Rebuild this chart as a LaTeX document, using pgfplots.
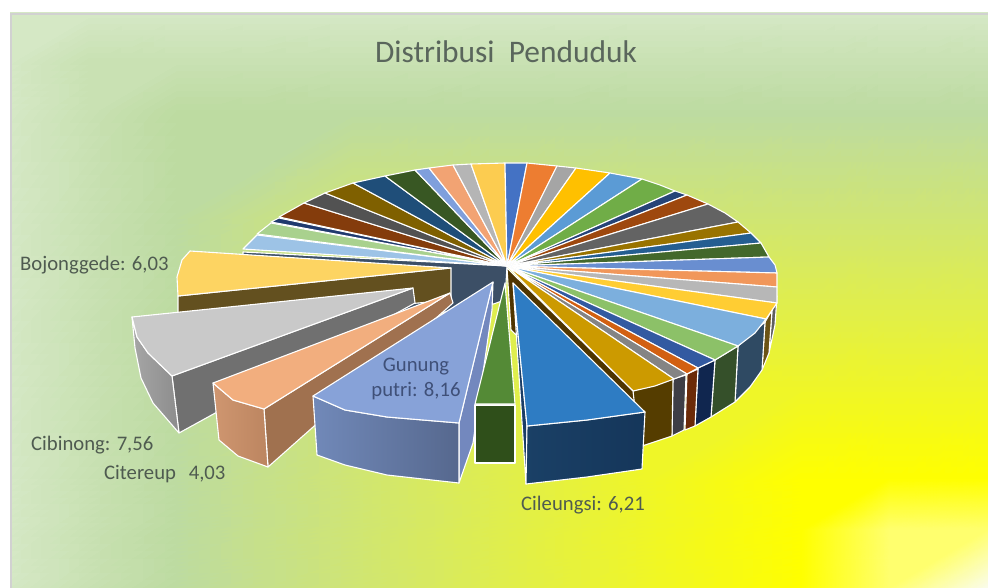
\documentclass[border=0pt]{standalone}
\usepackage{pgfplots}
\usepackage{fontspec}
\setmainfont{Carlito}
\pgfplotsset{compat=1.18}
\newcommand{\pc}[2]{\addplot[fill=#1,draw=white,line width=1.1pt,line join=round] coordinates {#2} --cycle;}
\newcommand{\pg}[3]{\addplot[left color=#1,right color=#2,draw=white,line width=1.1pt,line join=round] coordinates {#3} --cycle;}
\begin{document}
\begin{tikzpicture}
\useasboundingbox (0,0) rectangle (990pt,588pt);
\begin{axis}[at={(0,0)},anchor=south west,scale only axis,width=990pt,height=588pt,
  xmin=0,xmax=990,ymin=0,ymax=588,zmin=-1,zmax=1,y dir=reverse,view={0}{90},axis lines=none,clip=true]
\addplot3[surf,shader=interp,mesh/color input=explicit,mesh/cols=9] table[x=x,y=y,z expr=0,meta=c] {
x y c
11 13 rgb255=213,232,197
89 13 rgb255=213,232,197
177 13 rgb255=213,232,197
353 13 rgb255=213,232,197
499 13 rgb255=213,232,197
646 13 rgb255=213,232,197
802 13 rgb255=213,232,197
890 13 rgb255=213,232,197
988 13 rgb255=213,232,197
11 59 rgb255=213,232,197
89 59 rgb255=201,225,179
177 59 rgb255=201,225,179
353 59 rgb255=201,225,179
499 59 rgb255=201,225,179
646 59 rgb255=201,225,179
802 59 rgb255=201,225,179
890 59 rgb255=201,225,179
988 59 rgb255=201,225,179
11 111 rgb255=213,232,197
89 111 rgb255=201,225,179
177 111 rgb255=189,219,161
353 111 rgb255=189,219,161
499 111 rgb255=189,219,161
646 111 rgb255=189,219,161
802 111 rgb255=189,219,161
890 111 rgb255=189,219,161
988 111 rgb255=189,219,161
11 214 rgb255=213,232,197
89 214 rgb255=201,225,179
177 214 rgb255=189,219,161
353 214 rgb255=207,229,116
499 214 rgb255=207,229,116
646 214 rgb255=207,229,116
802 214 rgb255=207,229,116
890 214 rgb255=207,229,116
988 214 rgb255=207,229,116
11 300 rgb255=213,232,197
89 300 rgb255=201,225,179
177 300 rgb255=189,219,161
353 300 rgb255=207,229,116
499 300 rgb255=223,238,78
646 300 rgb255=223,238,78
802 300 rgb255=223,238,78
890 300 rgb255=223,238,78
988 300 rgb255=223,238,78
11 387 rgb255=213,232,197
89 387 rgb255=201,225,179
177 387 rgb255=189,219,161
353 387 rgb255=207,229,116
499 387 rgb255=223,238,78
646 387 rgb255=239,246,40
802 387 rgb255=239,246,40
890 387 rgb255=239,246,40
988 387 rgb255=239,246,40
11 479 rgb255=213,232,197
89 479 rgb255=201,225,179
177 479 rgb255=189,219,161
353 479 rgb255=207,229,116
499 479 rgb255=223,238,78
646 479 rgb255=239,246,40
802 479 rgb255=255,255,0
890 479 rgb255=255,255,0
988 479 rgb255=255,255,0
11 530 rgb255=213,232,197
89 530 rgb255=201,225,179
177 530 rgb255=189,219,161
353 530 rgb255=207,229,116
499 530 rgb255=223,238,78
646 530 rgb255=239,246,40
802 530 rgb255=255,255,0
890 530 rgb255=255,255,110
988 530 rgb255=255,255,110
11 588 rgb255=213,232,197
89 588 rgb255=201,225,179
177 588 rgb255=189,219,161
353 588 rgb255=207,229,116
499 588 rgb255=223,238,78
646 588 rgb255=239,246,40
802 588 rgb255=255,255,0
890 588 rgb255=255,255,110
988 588 rgb255=250,252,235
};
\end{axis}
\begin{axis}[at={(0,0)},anchor=south west,scale only axis,width=990pt,height=588pt,
  xmin=0,xmax=990,ymin=0,ymax=588,y dir=reverse,axis lines=none,clip=true]
\addplot[draw=black!18,line width=1.6pt] coordinates {(11,588)(11,14)(988,14)};
% main pie outer side faces
\definecolor{s1}{HTML}{5F5F5F}\definecolor{s2}{HTML}{6B5315}\definecolor{s3}{HTML}{2F4A63}\definecolor{s4}{HTML}{35502A}\definecolor{s5}{HTML}{10264F}\definecolor{s6}{HTML}{6B2A08}\definecolor{s7}{HTML}{3E3E46}\definecolor{s8}{HTML}{553D00}
\pc{s1}{(772,310)(777,296)(775,325)(769,353)}
\pc{s2}{(765,322)(772,310)(769,353)(762,370)}
\pc{s3}{(738,346)(765,322)(762,370)(750,387)(735,402)}
\pc{s4}{(715,360)(738,346)(735,402)(711,417)}
\pc{s5}{(698,368)(715,360)(711,417)(695,426)}
\pc{s6}{(687,374)(698,369)(695,426)(685,430)}
\pc{s7}{(673,379)(686,375)(684,430)(672,436)}
\pc{s8}{(633,391)(673,379)(672,436)(633,449)}
% main pie top
\definecolor{ca}{HTML}{3C4F66}
\pc{ca}{(243,252)(507,266)(505,300)(470,312)(243,312)}
\definecolor{c1}{HTML}{9DC3E6}\pc{c1}{(507,266)(243,249)(257,235)}
\definecolor{c2}{HTML}{A9D18E}\pc{c2}{(507,266)(257,234)(271,223)}
\definecolor{c3}{HTML}{203A6E}\pc{c3}{(507,266)(271,222)(279,218)}
\definecolor{c4}{HTML}{843C0C}\pc{c4}{(507,266)(279,217)(304,203)}
\definecolor{c5}{HTML}{525252}\pc{c5}{(507,266)(304,203)(325,193)}
\definecolor{c6}{HTML}{7F6000}\pc{c6}{(507,266)(325,193)(353,183)}
\definecolor{c7}{HTML}{1F4E79}\pc{c7}{(507,266)(353,183)(385,176)}
\definecolor{c8}{HTML}{385723}\pc{c8}{(507,266)(385,176)(415,170)}
\definecolor{c9}{HTML}{7F9FDC}\pc{c9}{(507,266)(415,170)(429,168)}
\definecolor{c10}{HTML}{F2A373}\pc{c10}{(507,266)(429,168)(453,165)}
\definecolor{c11}{HTML}{B5B5B5}\pc{c11}{(507,266)(453,165)(471,164)}
\definecolor{c12}{HTML}{FCCC50}\pc{c12}{(507,266)(471,164)(505,163)}
\definecolor{d1}{HTML}{4472C4}\pc{d1}{(507,266)(505,163)(527,163)}
\definecolor{d2}{HTML}{ED7D31}\pc{d2}{(507,266)(527,163)(557,166)}
\definecolor{d3}{HTML}{A5A5A5}\pc{d3}{(507,266)(557,166)(576,168)}
\definecolor{d4}{HTML}{FFC000}\pc{d4}{(507,266)(576,168)(610,173)}
\definecolor{d5}{HTML}{5B9BD5}\pc{d5}{(507,266)(610,173)(642,179)}
\definecolor{d6}{HTML}{70AD47}\pc{d6}{(507,266)(642,179)(660,185)(675,191)}
\definecolor{d7}{HTML}{264478}\pc{d7}{(507,266)(675,191)(687,195)}
\definecolor{d8}{HTML}{9E480E}\pc{d8}{(507,266)(687,195)(708,204)}
\definecolor{d9}{HTML}{636363}\pc{d9}{(507,266)(708,204)(725,213)(738,222)}
\definecolor{d10}{HTML}{997300}\pc{d10}{(507,266)(738,222)(751,233)}
\definecolor{d11}{HTML}{255E91}\pc{d11}{(507,266)(751,233)(761,243)}
\definecolor{d12}{HTML}{43682B}\pc{d12}{(507,266)(761,243)(769,257)}
\definecolor{d13}{HTML}{698ED0}\pc{d13}{(507,266)(769,257)(775,265)(777,273)}
\definecolor{d14}{HTML}{F1975A}\pc{d14}{(507,266)(777,273)(777,287)}
\definecolor{d15}{HTML}{B7B7B7}\pc{d15}{(507,266)(777,287)(777,303)}
\definecolor{d16}{HTML}{FFCD33}\pc{d16}{(507,266)(777,303)(766,319)}
\definecolor{d17}{HTML}{7CAFDD}\pc{d17}{(507,266)(766,319)(755,333)(738,346)}
\definecolor{d18}{HTML}{8CC168}\pc{d18}{(507,266)(738,346)(715,360)}
\definecolor{d19}{HTML}{335AA1}\pc{d19}{(507,266)(715,360)(698,368)}
\definecolor{d20}{HTML}{D26012}\pc{d20}{(507,266)(698,368)(687,374)}
\definecolor{d21}{HTML}{848484}\pc{d21}{(507,266)(687,374)(674,379)}
\definecolor{d22}{HTML}{CC9A00}\pc{d22}{(507,266)(674,379)(655,386)(633,391)}
% cut face beside Cileungsi
\definecolor{e1}{HTML}{4F3500}
\pc{e1}{(507,268)(633,391)(640,452)(511,330)}
% Bojonggede
\definecolor{f1}{HTML}{63501F}\definecolor{f2}{HTML}{FDD462}
\pc{f1}{(178,296)(451,268)(451,300)(178,325)}
\pc{f2}{(451,268)(190,251)(182,260)(177,277)(178,296)}
% Cibinong
\definecolor{g1}{HTML}{707070}\definecolor{g2}{HTML}{A6A6A6}\definecolor{g3}{HTML}{8C8C8C}\definecolor{g4}{HTML}{C9C9C9}
\pc{g1}{(172,376)(413,288)(415,303)(179,433)}
\pg{g2}{g3}{(132,317)(137,337)(148,353)(172,376)(179,433)(153,403)(141,378)(135,348)}
\pc{g4}{(413,288)(132,317)(137,337)(148,353)(172,376)}
% Citereup
\definecolor{h1}{HTML}{A0714F}\definecolor{h2}{HTML}{CF9670}\definecolor{h3}{HTML}{BC8560}\definecolor{h4}{HTML}{F2AE7E}
\pc{h1}{(264,409)(450,293)(453,303)(268,467)}
\pg{h2}{h3}{(213,383)(233,400)(264,409)(268,467)(238,456)(219,440)}
\pc{h4}{(450,293)(213,383)(233,400)(264,409)}
% Gunung putri
\definecolor{i1}{HTML}{7388BE}\definecolor{i2}{HTML}{7189B9}\definecolor{i3}{HTML}{56688E}\definecolor{i4}{HTML}{87A2D8}
\pc{i1}{(493,282)(492,310)(473,443)(459,483)(459,423)}
\pg{i2}{i3}{(313,396)(345,410)(387,417)(459,423)(459,483)(387,475)(345,465)(317,455)}
\pc{i4}{(493,282)(313,396)(345,410)(387,417)(459,423)}
% green
\definecolor{j1}{HTML}{548A36}\definecolor{j2}{HTML}{2F4F1A}
\pc{j2}{(475,405)(515,405)(515,463)(475,463)}
\pc{j1}{(505,283)(475,404)(515,404)}
% Cileungsi
\definecolor{k1}{HTML}{1A3D66}\definecolor{k2}{HTML}{2E7CC3}\definecolor{k3}{HTML}{1A4066}\definecolor{k4}{HTML}{15365A}
\pc{k1}{(513,283)(527,426)(526,484)}
\pg{k3}{k4}{(527,426)(587,420)(645,412)(642,469)(587,477)(526,484)}
\pc{k2}{(513,283)(527,426)(587,420)(645,412)}
% text
\definecolor{tx}{HTML}{4F5B50}\definecolor{ty}{HTML}{3F5078}\definecolor{tt}{HTML}{5A665C}
\node[text=tt,font=\fontsize{31.4}{36}\selectfont] at (axis cs:506,52) {Distribusi\ \ Penduduk};
\node[text=tx,anchor=west,inner sep=0pt,font=\fontsize{20.7}{25}\selectfont] at (axis cs:20,265) {Bojonggede: 6,03};
\node[text=tx,anchor=west,inner sep=0pt,font=\fontsize{20.7}{25}\selectfont] at (axis cs:31,445) {Cibinong: 7,56};
\node[text=tx,anchor=west,inner sep=0pt,font=\fontsize{20.7}{25}\selectfont] at (axis cs:104,474) {Citereup\ \ \,4,03};
\node[text=tx,anchor=west,inner sep=0pt,font=\fontsize{20.7}{25}\selectfont] at (axis cs:521,505) {Cileungsi: 6,21};
\node[text=ty,align=center,inner sep=0pt,font=\fontsize{20.7}{25}\selectfont] at (axis cs:416,379) {Gunung\\putri: 8,16};
\end{axis}
\end{tikzpicture}
\end{document}
